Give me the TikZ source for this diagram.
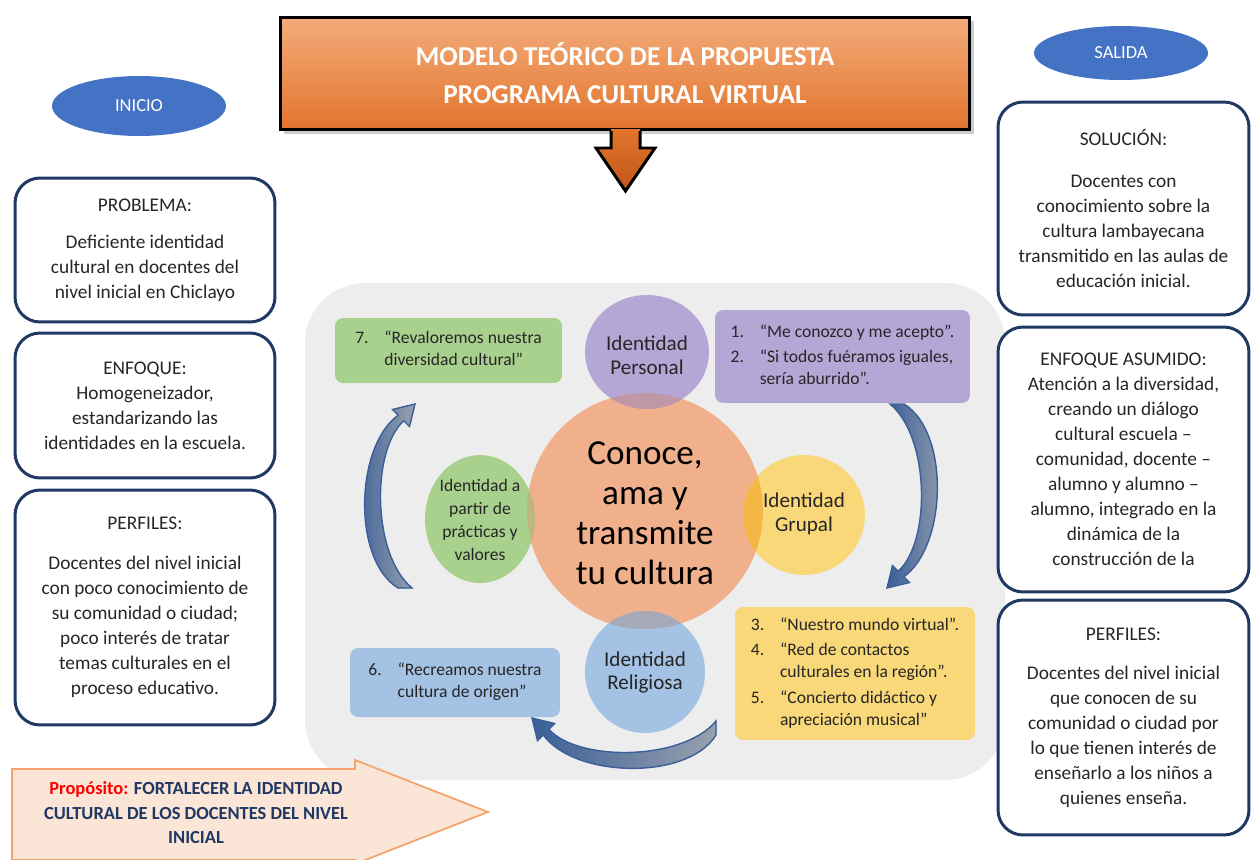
\documentclass[tikz,border=0pt]{standalone}
\usepackage{fontspec}
\setmainfont{Carlito}
\usetikzlibrary{shapes.geometric}

\definecolor{marino}{HTML}{1F3864}
\definecolor{azulet}{HTML}{4472C4}
\definecolor{panel}{HTML}{EDEDED}
\definecolor{salmon}{HTML}{F0B08C}
\definecolor{lila}{HTML}{B4A7D6}
\definecolor{amarillo}{HTML}{F8D878}
\definecolor{celeste}{HTML}{A4C2E3}
\definecolor{verde}{HTML}{A9D18E}
\definecolor{mezclaP}{HTML}{BF97A6}
\definecolor{mezclaG}{HTML}{F4B645}
\definecolor{mezclaR}{HTML}{A7A9B6}
\definecolor{mezclaV}{HTML}{BCB77E}
\definecolor{naranjaA}{HTML}{F3AC7B}
\definecolor{naranjaB}{HTML}{E2742C}
\definecolor{naranjaC}{HTML}{C0561A}
\definecolor{melocoton}{HTML}{FBE5D6}
\definecolor{bordeP}{HTML}{F4A46C}
\definecolor{texto}{HTML}{262626}
\definecolor{flechaG}{HTML}{9AA1AE}
\definecolor{flechaB}{HTML}{3A5F98}

\tikzset{
  caja/.style={draw=marino, line width=1.7pt, rounded corners=0.5cm, fill=white,
    align=center, text=texto, font=\fontsize{11}{14.2}\selectfont, inner sep=0pt},
  etiqueta/.style={ellipse, fill=azulet, text=white,
    font=\fontsize{10.5}{12}\selectfont, minimum width=3.48cm},
  lista/.style={rounded corners=0.16cm, text=texto,
    font=\fontsize{10}{12.5}\selectfont, inner sep=0pt},
  rotulo/.style={align=center, text=texto, inner sep=0pt},
  flecha/.style={left color=flechaB, right color=flechaG, draw=flechaB, line width=0.8pt},
  titulo/.style={draw=black, line width=1.7pt, top color=naranjaA, bottom color=naranjaB,
    text=white, align=center, font=\bfseries\fontsize{15.5}{21.6}\selectfont,
    minimum width=13.8cm, minimum height=2.26cm}
}

% flecha curva (tail abajo, punta arriba)
\newcommand{\flechacurva}[1]{%
  \begin{scope}[#1]
    \filldraw[flecha] (-7,92) .. controls (-53,64) and (-50,-50) .. (-6.8,-80.8)
      -- (-12.5,-86.5) -- (10,-92) -- (4.5,-69.5) -- (-1.2,-75.2)
      .. controls (-34,-46) and (-33,59) .. (7,92) -- cycle;
  \end{scope}}

\begin{document}
\begin{tikzpicture}[x=0.02cm, y=-0.02cm]
  \useasboundingbox (0,0) rectangle (1251,859);

  % fondo central
  \fill[panel, rounded corners=1.2cm] (305,283) rectangle (1005,780);

  % titulo
  \fill[black!20] (284,21) rectangle (974,134);
  \node[titulo] (titulo) at (625,73.5) {MODELO TEÓRICO DE LA PROPUESTA\\PROGRAMA CULTURAL VIRTUAL};
  \fill[top color=naranjaB, bottom color=naranjaC] (611,129) -- (611,148) -- (596,148)
    -- (625.5,191) -- (655,148) -- (640,148) -- (640,129) -- cycle;
  \draw[line width=1.7pt, line join=miter] (611,131) -- (611,148) -- (596,148)
    -- (625.5,191) -- (655,148) -- (640,148) -- (640,131);

  % etiquetas
  \node[etiqueta, minimum height=1.2cm] (inicio) at (139,106) {INICIO};
  \node[etiqueta, minimum height=1.08cm] (salida) at (1121,53) {SALIDA};

  % cajas izquierda
  \node[caja, minimum width=5.2cm, minimum height=2.88cm] (problema) at (145,250)
    {PROBLEMA:\\[7pt]Deficiente identidad\\cultural en docentes del\\nivel inicial en Chiclayo};
  \node[caja, minimum width=5.2cm, minimum height=2.9cm] (enfoque) at (145,405.5)
    {ENFOQUE:\\Homogeneizador,\\estandarizando las\\identidades en la escuela.};
  \node[caja, minimum width=5.2cm, minimum height=4.7cm] (perfiles) at (145,607.5)
    {PERFILES:\\[8.5pt]Docentes del nivel inicial\\con poco conocimiento de\\su comunidad o ciudad;\\poco interés de tratar\\temas culturales en el\\proceso educativo.};

  % cajas derecha
  \node[caja, minimum width=5.02cm, minimum height=4.26cm] (solucion) at (1123.5,208.5)
    {SOLUCIÓN:\\[9.5pt]Docentes con\\conocimiento sobre la\\cultura lambayecana\\transmitido en las aulas de\\educación inicial.};
  \node[caja, minimum width=5.02cm, minimum height=5.3cm] (asumido) at (1123.5,459.5)
    {ENFOQUE ASUMIDO:\\Atención a la diversidad,\\creando un diálogo\\cultural escuela –\\comunidad, docente –\\alumno y alumno –\\alumno, integrado en la\\dinámica de la\\construcción de la};
  \node[caja, minimum width=5.02cm, minimum height=4.7cm] (perfilesB) at (1123.5,717.5)
    {PERFILES:\\[8pt]Docentes del nivel inicial\\que conocen de su\\comunidad o ciudad por\\lo que tienen interés de\\enseñarlo a los niños a\\quienes enseña.};

  % circulos
  \fill[salmon] (645,511) circle (2.36cm);
  \fill[lila] (647,352) ellipse (1.24cm and 1.14cm);
  \fill[amarillo] (804,515) ellipse (1.22cm and 1.2cm);
  \fill[celeste] (645,672) ellipse (1.2cm and 1.22cm);
  \fill[verde] (480,519) ellipse (1.1cm and 1.28cm);
  \begin{scope}
    \clip (645,511) circle (2.36cm);
    \fill[mezclaP] (647,352) ellipse (1.24cm and 1.14cm);
    \fill[mezclaG] (804,515) ellipse (1.22cm and 1.2cm);
    \fill[mezclaR] (645,672) ellipse (1.2cm and 1.22cm);
    \fill[mezclaV] (480,519) ellipse (1.1cm and 1.28cm);
  \end{scope}
  \node[rotulo, text=black, font=\fontsize{20}{22.7}\selectfont] (nucleo) at (645,513)
    {Conoce,\\ama y\\transmite\\tu cultura};
  \node[rotulo, font=\fontsize{12}{13.6}\selectfont] (personal) at (647,355) {Identidad\\Personal};
  \node[rotulo, font=\fontsize{12}{13.6}\selectfont] (grupal) at (804,514) {Identidad\\Grupal};
  \node[rotulo, font=\fontsize{12}{13.6}\selectfont] (religiosa) at (645,672.5) {Identidad\\Religiosa};
  \node[rotulo, font=\fontsize{10}{13}\selectfont] (practicas) at (480,520)
    {Identidad a\\partir de\\prácticas y\\valores};

  % cajas de actividades
  \node[lista, fill=verde, minimum width=4.54cm, minimum height=1.3cm] (caja7) at (448.5,350.5)
    {\begin{tabular}{@{}l@{\hspace{9pt}}l@{}}
      7. & “Revaloremos nuestra\\
         & diversidad cultural”
    \end{tabular}};
  \node[lista, fill=lila, minimum width=5.1cm, minimum height=1.86cm] (caja12) at (842.5,356.5)
    {\begin{tabular}{@{}l@{\hspace{9pt}}l@{}}
      1. & “Me conozco y me acepto”.\\[2pt]
      2. & “Si todos fuéramos iguales,\\
         & sería aburrido”.
    \end{tabular}};
  \node[lista, fill=amarillo, minimum width=4.8cm, minimum height=2.66cm] (caja345) at (855,673.5)
    {\begin{tabular}{@{}l@{\hspace{9pt}}l@{}}
      3. & “Nuestro mundo virtual”.\\[2pt]
      4. & “Red de contactos\\
         & culturales en la región”.\\[2pt]
      5. & “Concierto didáctico y\\
         & apreciación musical”
    \end{tabular}};
  \node[lista, fill=celeste, minimum width=4.2cm, minimum height=1.38cm] (caja6) at (455,682.5)
    {\begin{tabular}{@{}l@{\hspace{9pt}}l@{}}
      6. & “Recreamos nuestra\\
         & cultura de origen”
    \end{tabular}};

  % flechas curvas
  \flechacurva{shift={(405,496)}}
  \flechacurva{shift={(897,496)}, rotate=180}
  \flechacurva{shift={(624,728)}, rotate=90}

  % proposito
  \filldraw[fill=melocoton, draw=bordeP, line width=1pt] (12,769) -- (355,769) -- (355,760)
    -- (488,812) -- (355,864) -- (355,860) -- (12,860) -- cycle;
  \node[rotulo, text=marino, font=\bfseries\fontsize{10.5}{13.9}\selectfont] (proposito) at (196,813)
    {{\color{red}Propósito:} FORTALECER LA IDENTIDAD\\CULTURAL DE LOS DOCENTES DEL NIVEL\\INICIAL};
\end{tikzpicture}
\end{document}
